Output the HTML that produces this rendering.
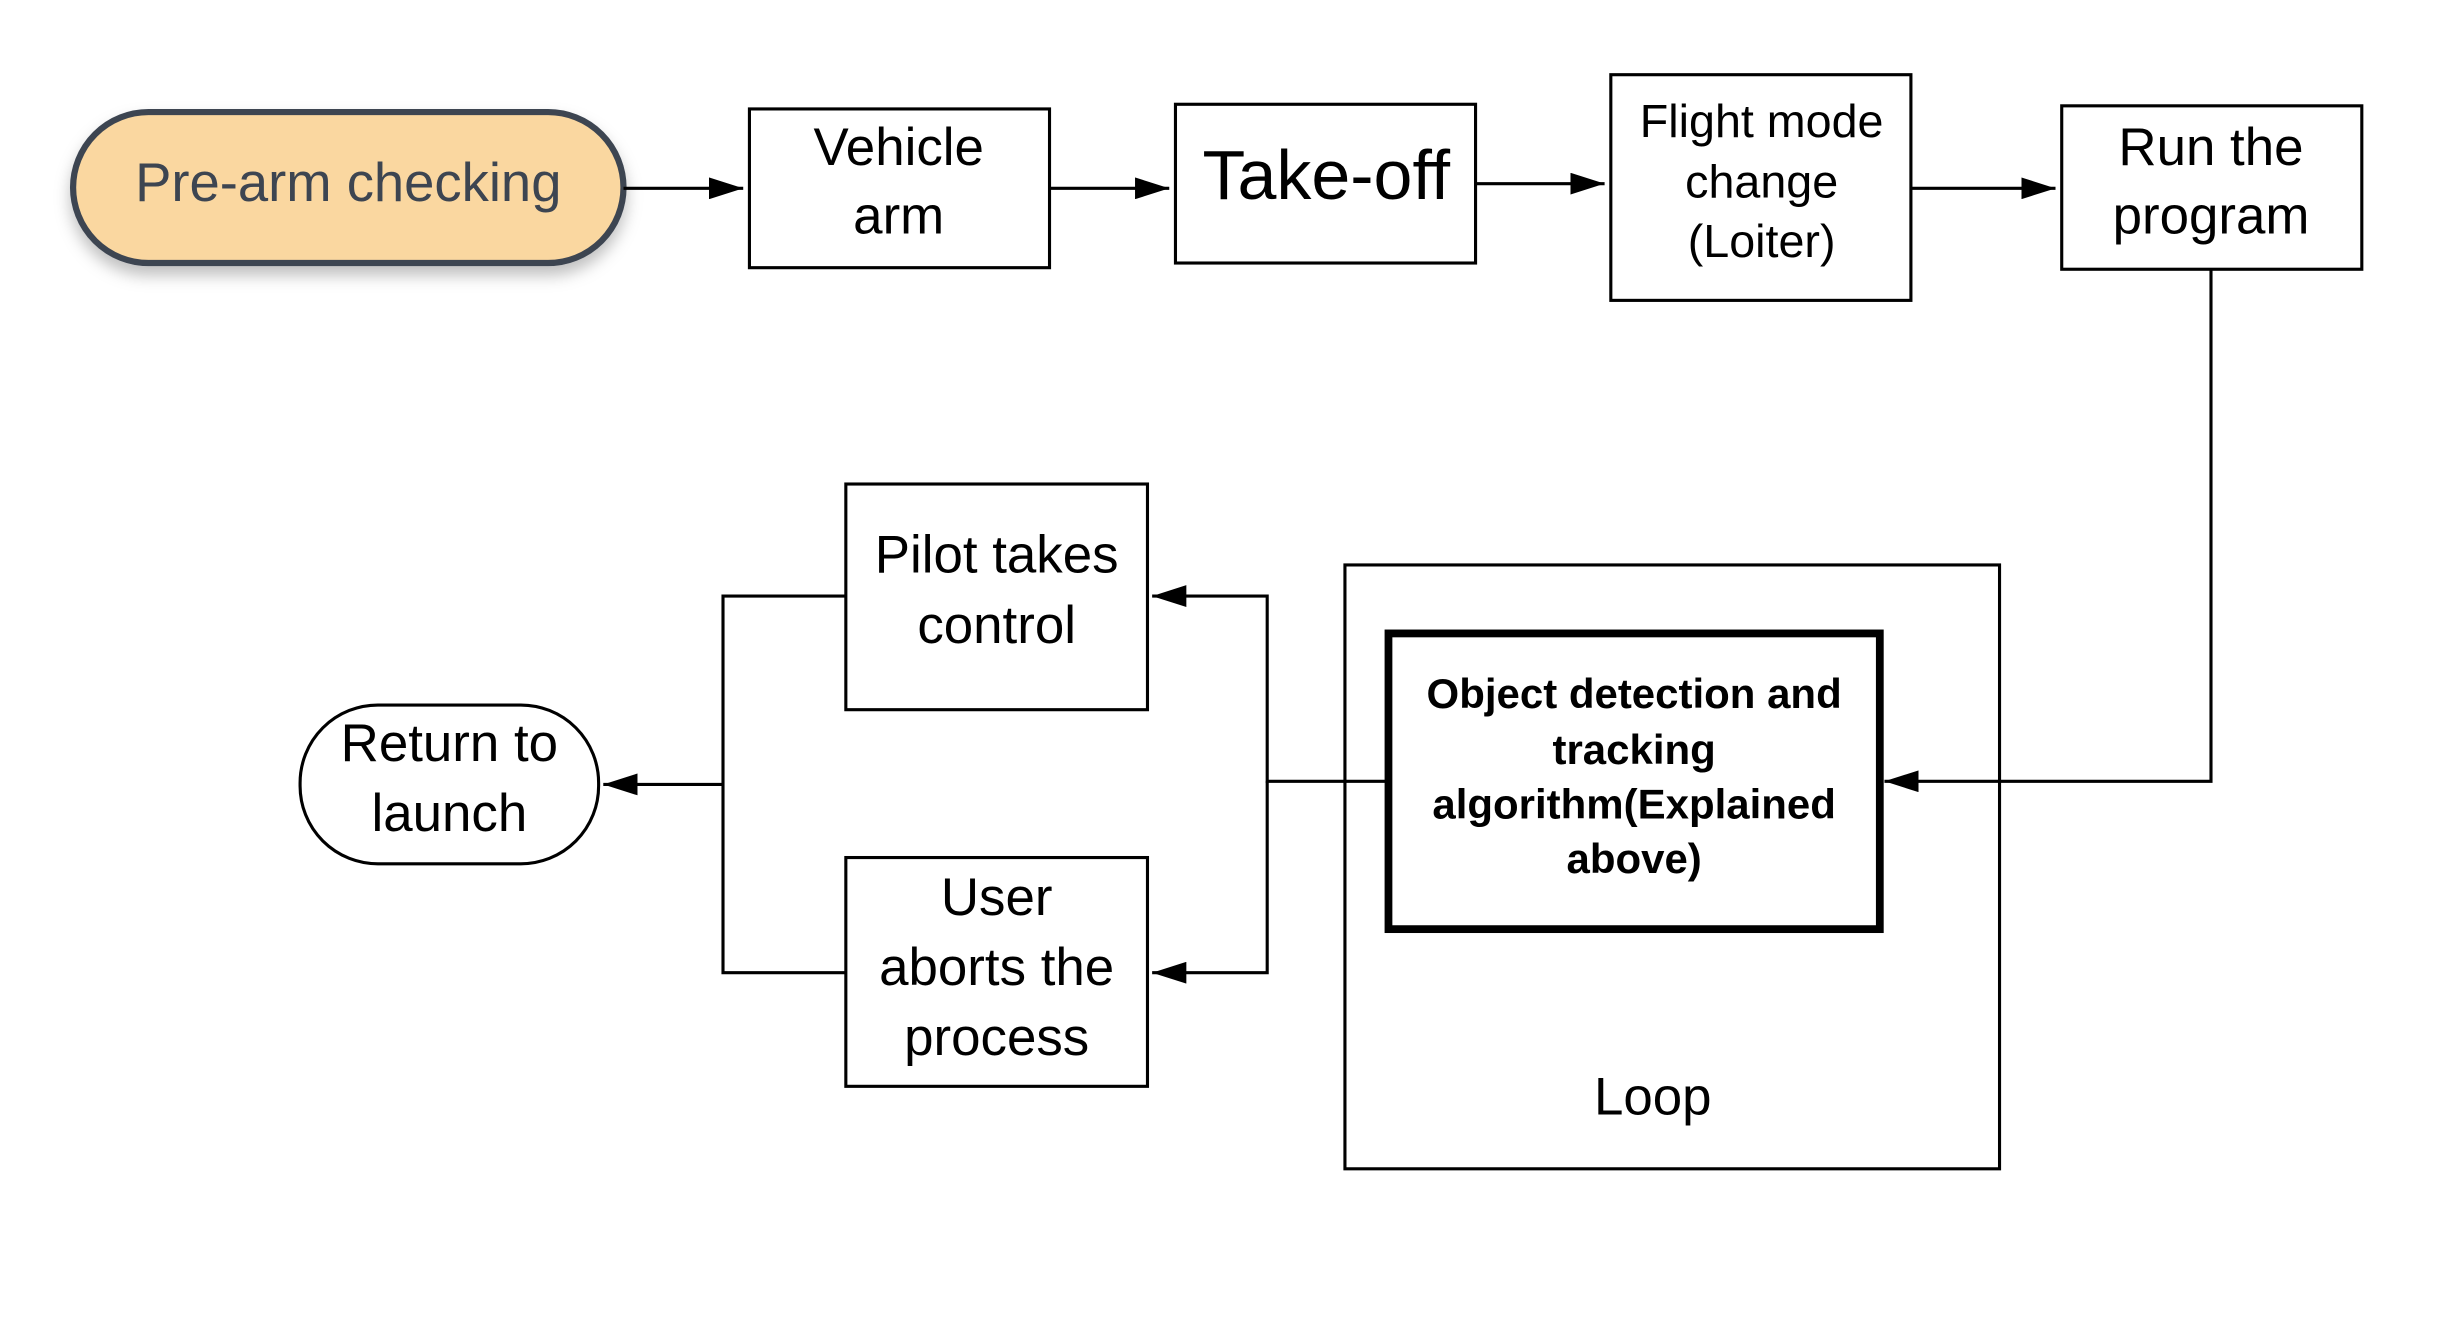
<!DOCTYPE html>
<html><head><style>html,body{margin:0;padding:0;background:#fff}svg{display:block}text{font-family:"Liberation Sans",sans-serif;text-anchor:middle}</style></head>
<body>
<svg width="2438" height="1326" viewBox="0 0 1568 852" preserveAspectRatio="none" xmlns="http://www.w3.org/2000/svg">
<defs>
<marker id="b" markerWidth="22" markerHeight="14" refX="22" refY="7" orient="auto" markerUnits="userSpaceOnUse"><path d="M0,0 L22,7 L0,14 z" fill="#000"/></marker>
<filter id="s" x="-20%" y="-30%" width="140%" height="170%"><feDropShadow dx="0" dy="6" stdDeviation="5" flood-color="#000" flood-opacity="0.25"/></filter>
</defs>
<rect x="47" y="72" width="354" height="97" rx="48.5" fill="#fad7a0" stroke="#3d4551" stroke-width="4" filter="url(#s)"/>
<text x="224" y="129" font-size="35" fill="#3d4551">Pre-arm checking</text>
<g fill="#fff" stroke="#000" stroke-width="2">
<rect x="482" y="70" width="193" height="102"/>
<rect x="756" y="67" width="193" height="102"/>
<rect x="1036" y="48" width="193" height="145"/>
<rect x="1326" y="68" width="193" height="105"/>
<rect x="544" y="311" width="194" height="145"/>
<rect x="544" y="551" width="194" height="147"/>
<rect x="865" y="363" width="421" height="388"/>
<rect x="193" y="453" width="192" height="102" rx="50"/>
</g>
<rect x="893" y="407" width="316" height="190" fill="#fff" stroke="#000" stroke-width="5"/>
<g fill="none" stroke="#000" stroke-width="2">
<path d="M401,121 H478" marker-end="url(#b)"/>
<path d="M675,121 H752" marker-end="url(#b)"/>
<path d="M949,118 H1032" marker-end="url(#b)"/>
<path d="M1229,121 H1322" marker-end="url(#b)"/>
<path d="M1422,173 V502 H1212" marker-end="url(#b)"/>
<path d="M893,502 H815 V383 H741" marker-end="url(#b)"/>
<path d="M815,502 V625 H741" marker-end="url(#b)"/>
<path d="M544,383 H465 V625 H544"/>
<path d="M465,504 H388" marker-end="url(#b)"/>
</g>
<g font-size="34" fill="#000">
<text x="578" y="106">Vehicle</text><text x="578" y="150">arm</text>
<text x="853" y="128" font-size="45">Take-off</text>
<text x="1133" y="88" font-size="30">Flight mode</text><text x="1133" y="127" font-size="30">change</text><text x="1133" y="165" font-size="30">(Loiter)</text>
<text x="1422" y="106">Run the</text><text x="1422" y="150">program</text>
<text x="641" y="368">Pilot takes</text><text x="641" y="413">control</text>
<text x="641" y="588">User</text><text x="641" y="633">aborts the</text><text x="641" y="678">process</text>
<text x="289" y="489">Return to</text><text x="289" y="534">launch</text>
<text x="1063" y="716">Loop</text>
</g>
<g font-size="27" font-weight="bold" fill="#000">
<text x="1051" y="455">Object detection and</text><text x="1051" y="491">tracking</text><text x="1051" y="526">algorithm(Explained</text><text x="1051" y="561">above)</text>
</g>
</svg>
</body></html>
